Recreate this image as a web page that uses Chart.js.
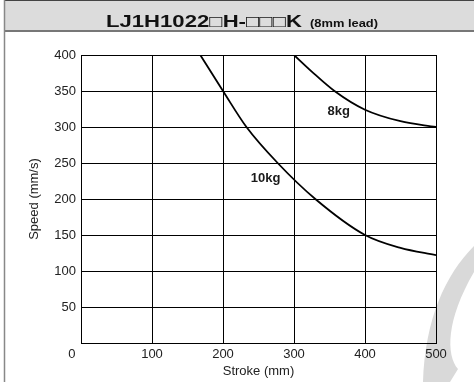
<!DOCTYPE html>
<html>
<head>
<meta charset="utf-8">
<script src="https://cdn.jsdelivr.net/npm/chart.js@4/dist/chart.umd.min.js"></script>
<style>
  html, body { margin: 0; padding: 0; background: #fff; }
  canvas { display: block; }
</style>
</head>
<body>
<canvas id="speed_chart" width="474" height="382"></canvas>
<script>
// chart data
const title_main = "LJ1H1022\u25A1H-\u25A1\u25A1\u25A1K";
const title_sub = "(8mm lead)";

const stroke_10kg = [168, 200, 233, 277, 330, 400, 450, 500];
const speed_10kg  = [400, 350, 300, 250, 200, 150, 132, 122];

const stroke_8kg = [300, 325, 357, 400, 450, 500];
const speed_8kg  = [400, 377, 350, 324, 308, 300];

const load_names   = ["8kg", "10kg"];
const load_strokes = [363, 260];
const load_speeds  = [321, 229];

const FONT = "'Liberation Sans', Arial, sans-serif";

function toPoints(xs, ys){
	return xs.map((x, i) => ({x: x, y: ys[i]}));
}

// header bar, frame and watermark
const framePlugin = {
	id: "frame",
	beforeDraw(chart){
		const c = chart.ctx;
		c.save();
		c.fillStyle = "#fff";
		c.fillRect(0, 0, chart.width, chart.height);

		// watermark swoosh
		c.fillStyle = "#d9d9d9";
		c.beginPath();
		c.moveTo(474, 246);
		c.bezierCurveTo(445, 275, 425, 320, 423, 382);
		c.lineTo(450, 382);
		c.lineTo(458, 369);
		c.bezierCurveTo(446, 355, 446, 320, 474, 272);
		c.closePath();
		c.fill();

		// title bar
		c.fillStyle = "#dcdcdc";
		c.fillRect(4, 0, chart.width - 4, 31);
		c.strokeStyle = "#444";
		c.lineWidth = 1;
		c.beginPath();
		c.moveTo(4, 0.5); c.lineTo(chart.width, 0.5);
		c.stroke();
		c.strokeStyle = "#777";
		c.lineWidth = 2;
		c.beginPath();
		c.moveTo(4, 31); c.lineTo(chart.width, 31);
		c.stroke();

		// left frame line
		c.strokeStyle = "#888";
		c.lineWidth = 1.5;
		c.beginPath();
		c.moveTo(4.5, 0); c.lineTo(4.5, chart.height);
		c.stroke();

		// title text, stretched like the original
		c.fillStyle = "#111";
		c.textBaseline = "alphabetic";
		c.textAlign = "left";
		c.font = "bold 17px " + FONT;
		let w = c.measureText(title_main).width;
		c.save();
		c.translate(106, 27);
		c.scale(196 / w, 1);
		c.fillText(title_main, 0, 0);
		c.restore();

		c.font = "bold 11px " + FONT;
		w = c.measureText(title_sub).width;
		c.save();
		c.translate(310, 27);
		c.scale(68 / w, 1);
		c.fillText(title_sub, 0, 0);
		c.restore();
		c.restore();
	}
};

// load labels next to the curves
const loadLabels = {
	id: "loadLabels",
	afterDatasetsDraw(chart){
		const c = chart.ctx;
		const xs = chart.scales.x, ys = chart.scales.y;
		c.save();
		c.font = "bold 13px " + FONT;
		c.fillStyle = "#1a1a1a";
		c.textAlign = "center";
		c.textBaseline = "middle";
		load_names.forEach((name, i) => {
			c.fillText(name, xs.getPixelForValue(load_strokes[i]), ys.getPixelForValue(load_speeds[i]));
		});
		c.restore();
	}
};

const ctx = document.getElementById("speed_chart").getContext("2d");

const my_chart = new Chart(ctx, {
	type: "line",
	data: {
		datasets: [{
			label: "10kg",
			data: toPoints(stroke_10kg, speed_10kg),
			borderColor: "#000",
			borderWidth: 1.8,
			pointRadius: 0,
			fill: false,
			cubicInterpolationMode: "monotone"
		},
		{
			label: "8kg",
			data: toPoints(stroke_8kg, speed_8kg),
			borderColor: "#000",
			borderWidth: 1.8,
			pointRadius: 0,
			fill: false,
			cubicInterpolationMode: "monotone"
		}]
	},
	options: {
		responsive: false,
		animation: false,
		layout: { padding: { left: 0, top: 55, right: 38, bottom: 0 } },
		plugins: {
			legend: { display: false },
			tooltip: { enabled: false }
		},
		scales: {
			x: {
				type: "linear",
				min: 0,
				max: 500,
				afterFit(scale){ scale.height = 39; },
				ticks: {
					stepSize: 100,
					padding: 4,
					color: "#222",
					font: { family: FONT, size: 13 },
					maxRotation: 0,
					callback: v => v === 0 ? "0     " : String(v)
				},
				grid: { color: "#000", lineWidth: 1, drawTicks: false },
				border: { color: "#000", width: 1 },
				title: {
					display: true,
					text: "Stroke (mm)",
					color: "#222",
					font: { family: FONT, size: 13 },
					padding: { top: 0, bottom: 2.5 }
				}
			},
			y: {
				min: 0,
				max: 400,
				afterFit(scale){ scale.width = 81; },
				ticks: {
					stepSize: 50,
					padding: 5,
					color: "#222",
					font: { family: FONT, size: 13 },
					callback: v => v === 0 ? "" : String(v)
				},
				grid: { color: "#000", lineWidth: 1, drawTicks: false },
				border: { color: "#000", width: 1 },
				title: {
					display: true,
					text: "Speed (mm/s)",
					color: "#222",
					font: { family: FONT, size: 13 },
					padding: { top: 27, bottom: 0 }
				}
			}
		}
	},
	plugins: [framePlugin, loadLabels]
});
</script>
</body>
</html>
